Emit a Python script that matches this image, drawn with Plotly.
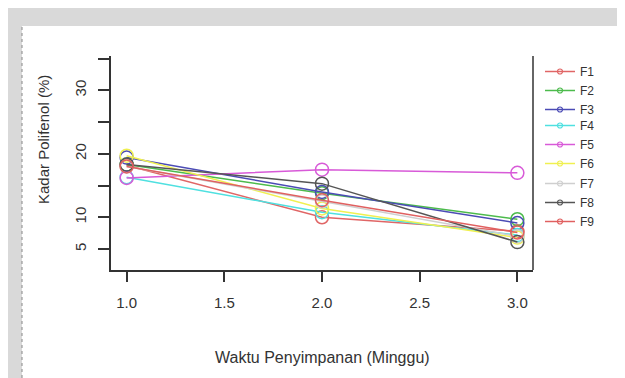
import plotly.graph_objects as go

weeks = [1.0, 2.0, 3.0]
series_names = ["F1", "F2", "F3", "F4", "F5", "F6", "F7", "F8", "F9"]
F1 = [18.2, 10.0, 7.8]
F2 = [18.3, 13.8, 9.7]
F3 = [19.4, 14.0, 9.1]
F4 = [16.3, 10.8, 7.2]
F5 = [16.2, 17.5, 17.0]
F6 = [19.7, 11.4, 6.8]
F7 = [18.0, 12.5, 7.0]
F8 = [18.3, 15.3, 6.1]
F9 = [18.0, 12.7, 7.6]
series_values = [F1, F2, F3, F4, F5, F6, F7, F8, F9]
colors = ["#e06666", "#4cbb4c", "#4b4bb5", "#4fe0e0", "#d85ad8",
          "#f0f050", "#cfcfcf", "#555555", "#e06060"]
legend_ids = ["legend", "legend", "legend", "legend2", "legend2", "legend2",
              "legend3", "legend3", "legend3"]

x_ticks = [1.0, 1.5, 2.0, 2.5, 3.0]
x_ticklabels = ["1.0", "1.5", "2.0", "2.5", "3.0"]
y_ticks = [5, 10, 15, 20, 25, 30, 35]
y_ticklabels = ["5", "10", "", "20", "", "30", ""]

FONT = "Liberation Sans, Arial, sans-serif"
TXT = "#333333"

fig = go.Figure()
for name, vals, col in zip(series_names, series_values, colors):
    fig.add_trace(go.Scatter(
        x=weeks, y=vals, mode="lines+markers", name=name, showlegend=False,
        line=dict(color=col, width=1.5),
        marker=dict(symbol="circle-open", size=13, color=col, line=dict(width=1.5, color=col)),
    ))
# legend entries (small markers like the reference legend)
for name, col, lg in zip(series_names, colors, legend_ids):
    fig.add_trace(go.Scatter(
        x=[None], y=[None], mode="lines+markers", name=name, legend=lg,
        line=dict(color=col, width=1.5),
        marker=dict(symbol="circle-open", size=5, color=col, line=dict(width=1.2, color=col)),
    ))

OFF = 8  # page body margin
W, H = 625 - OFF, 378 - OFF
L = 111 - OFF
T = 56 - OFF
R = W - (533 - OFF)
B = H - (270 - OFF)
pw, ph = W - L - R, H - T - B

def px(xref_pix):
    return (xref_pix - OFF - L) / pw

def py(yref_pix):
    return (H - B - (yref_pix - OFF)) / ph

legend_common = dict(bgcolor="rgba(0,0,0,0)", borderwidth=0,
                     font=dict(family=FONT, size=12, color=TXT),
                     xanchor="left", yanchor="top", x=px(540))

fig.update_layout(
    width=W, height=H,
    margin=dict(l=L, r=R, t=T, b=B),
    paper_bgcolor="#d9d9d9",
    plot_bgcolor="white",
    font=dict(family=FONT, color=TXT),
    legend=dict(**legend_common, y=py(57)),
    legend2=dict(**legend_common, y=py(111)),
    legend3=dict(**legend_common, y=py(169)),
    xaxis=dict(range=[0.92, 3.08], tickvals=x_ticks, ticktext=x_ticklabels,
               showgrid=False, zeroline=False, showline=True, linecolor="#333333", linewidth=1.5,
               ticks="outside", ticklen=10, tickwidth=1.5, tickcolor="#333333",
               ticklabelstandoff=8, tickfont=dict(family=FONT, size=15, color=TXT)),
    yaxis=dict(range=[1.7, 35.4], tickvals=y_ticks, ticktext=y_ticklabels,
               showgrid=False, zeroline=False, showline=True, linecolor="#333333", linewidth=1.5,
               ticks="outside", ticklen=11, tickwidth=1.5, tickcolor="#333333", tickangle=-90,
               ticklabelstandoff=6, tickfont=dict(family=FONT, size=15, color=TXT)),
    shapes=[
        dict(type="rect", xref="paper", yref="paper", x0=px(22), x1=px(621), y0=py(390), y1=py(26),
             fillcolor="white", line=dict(width=0), layer="below"),
        dict(type="line", xref="paper", yref="paper", x0=px(22), x1=px(22), y0=py(390), y1=py(26),
             line=dict(color="#888888", width=1, dash="dot"), layer="below"),
        dict(type="line", xref="paper", yref="paper", x0=1, x1=1, y0=0, y1=1,
             line=dict(color="#333333", width=1.5)),
    ],
    annotations=[
        dict(text="Kadar Polifenol (%)", xref="paper", yref="paper", x=px(43), y=py(140),
             xanchor="center", yanchor="middle",
             textangle=-90, showarrow=False, font=dict(family=FONT, size=15, color=TXT)),
        dict(text="Waktu Penyimpanan (Minggu)", xref="paper", yref="paper", x=0.5, y=py(357),
             xanchor="center", yanchor="middle",
             showarrow=False, font=dict(family=FONT, size=16, color=TXT)),
    ],
)

fig.write_html("out.html")
